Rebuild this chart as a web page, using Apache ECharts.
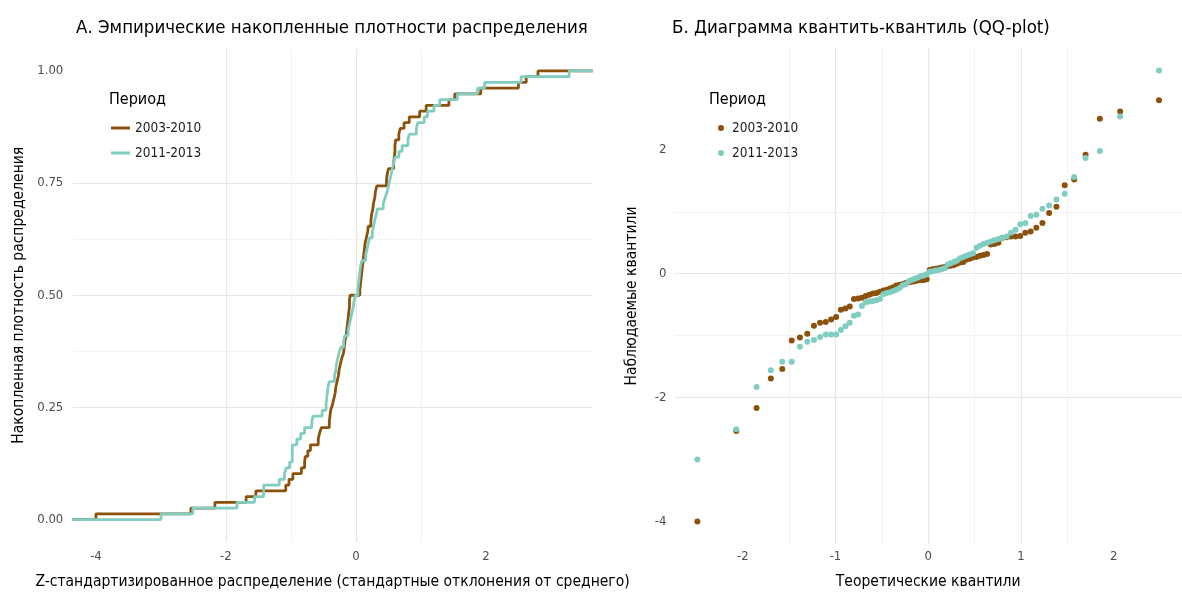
<!DOCTYPE html>
<html><head><meta charset="utf-8">
<script src="https://cdn.jsdelivr.net/npm/echarts@6/dist/echarts.min.js"></script>
<style>html,body{margin:0;padding:0;background:#fff}#c{width:1182px;height:595px}</style>
</head><body><div id="c"></div>
<script>
// ---- data ----
const periods = ['2003-2010', '2011-2013'];
// theoretical normal quantiles (n = 78)
const theoreticalQ = [-2.489,-2.070,-1.851,-1.697,-1.574,-1.472,-1.383,-1.304,-1.232,-1.166,-1.105,-1.047,-0.993,-0.942,-0.893,-0.846,-0.801,-0.757,-0.715,-0.674,-0.635,-0.596,-0.558,-0.521,-0.484,-0.448,-0.413,-0.378,-0.344,-0.310,-0.277,-0.244,-0.210,-0.178,-0.145,-0.113,-0.080,-0.048,-0.016,
  0.016,0.048,0.080,0.113,0.145,0.178,0.210,0.244,0.277,0.310,0.344,0.378,0.413,0.448,0.484,0.521,0.558,0.596,0.635,0.674,0.715,0.757,0.801,0.846,0.893,0.942,0.993,1.047,1.105,1.166,1.232,1.304,1.383,1.472,1.574,1.697,1.851,2.070,2.489];
// observed (sorted) z-values per period
const obs2003 = [-4.00,-2.54,-2.17,-1.69,-1.54,-1.08,-1.03,-0.97,-0.84,-0.79,-0.78,-0.74,-0.70,-0.58,-0.56,-0.53,-0.41,-0.40,-0.39,-0.36,-0.34,-0.32,-0.31,-0.29,-0.27,-0.26,-0.24,-0.22,-0.19,-0.18,-0.17,-0.15,-0.14,-0.13,-0.12,-0.11,-0.10,-0.10,-0.09,
  0.06,0.07,0.08,0.09,0.10,0.11,0.12,0.13,0.14,0.16,0.18,0.19,0.23,0.24,0.26,0.27,0.29,0.30,0.32,0.47,0.48,0.50,0.58,0.59,0.60,0.60,0.61,0.66,0.68,0.74,0.82,0.98,1.08,1.43,1.52,1.92,2.50,2.62,2.80];
const obs2011 = [-3.00,-2.51,-1.83,-1.56,-1.42,-1.42,-1.18,-1.10,-1.07,-1.02,-0.98,-0.98,-0.98,-0.91,-0.85,-0.79,-0.68,-0.66,-0.52,-0.46,-0.45,-0.44,-0.43,-0.41,-0.33,-0.31,-0.30,-0.28,-0.26,-0.23,-0.19,-0.17,-0.12,-0.10,-0.08,-0.06,-0.04,-0.03,-0.01,
  0.03,0.04,0.05,0.06,0.07,0.09,0.15,0.17,0.19,0.21,0.25,0.27,0.29,0.31,0.33,0.42,0.45,0.48,0.50,0.52,0.54,0.56,0.58,0.60,0.66,0.71,0.80,0.82,0.93,0.95,1.05,1.10,1.20,1.29,1.56,1.87,1.98,2.54,3.28];

// tick values (major = labelled, minor = grid only)
const ecdfXTicks = [-4, -2, 0, 2];
const ecdfXMinor = [-3, -1, 1, 3];
const ecdfYTicks = [0, 0.25, 0.5, 0.75, 1];
const ecdfYMinor = [0.125, 0.375, 0.625, 0.875];
const qqXTicks = [-2, -1, 0, 1, 2];
const qqXMinor = [-2.5, -1.5, -0.5, 0.5, 1.5, 2.5];
const qqYTicks = [-4, -2, 0, 2];
const qqYMinor = [-3, -1, 1, 3];

// ---- styling ----
const COLORS = ['#8c510a', '#80cdc1'];
const FONT = '"DejaVu Sans Condensed", "DejaVu Sans", sans-serif';
const ECDF_X = [-4.364, 3.644], ECDF_Y = [-0.05, 1.05];
const QQ_X = [-2.737, 2.737], QQ_Y = [-4.364, 3.644];

function ecdfSteps(vals, lo, hi) {
  const s = vals.slice().sort((a, b) => a - b), n = s.length;
  const out = [[lo, 0]];
  s.forEach((v, i) => out.push([v, (i + 1) / n]));
  out.push([hi, 1]);
  return out;
}
function qqPoints(vals) { return vals.map((v, i) => [theoreticalQ[i], v]); }

const majorLine = { show: true, showMinLine: false, showMaxLine: false, lineStyle: { color: '#e6e6e6', width: 1.2 } };
const minorLine = { show: true, showMinLine: false, showMaxLine: false, lineStyle: { color: '#f2f2f2', width: 0.9 } };
const tickLabelBase = { color: '#4d4d4d', fontSize: 13, fontFamily: FONT };

function valAxis(grid, range, ticks, labelOpts, opts) {
  return Object.assign({
    type: 'value', gridIndex: grid, min: range[0], max: range[1],
    axisLine: { show: false }, axisTick: { show: false, customValues: ticks }, splitLine: majorLine,
    axisLabel: Object.assign({}, tickLabelBase, { customValues: ticks }, labelOpts)
  }, opts || {});
}
function minorAxis(grid, range, ticks, pos) {
  return { type: 'value', gridIndex: grid, min: range[0], max: range[1], position: pos,
    axisLine: { show: false }, axisTick: { show: false, customValues: ticks }, axisLabel: { show: false, customValues: ticks },
    splitLine: minorLine, z: 0 };
}
const nameStyle = { color: '#000', fontSize: 15.5, fontFamily: FONT };
const titleStyle = { fontSize: 18.5, fontWeight: 'normal', color: '#000', fontFamily: FONT };

const option = {
  backgroundColor: '#fff',
  animation: false,
  title: [
    { text: 'А. Эмпирические накопленные плотности распределения', left: 71, top: 14, textStyle: titleStyle },
    { text: 'Б. Диаграмма квантить-квантиль (QQ-plot)', left: 667, top: 14, textStyle: titleStyle },
    { text: 'Период', left: 104, top: 87, textStyle: { fontSize: 16, fontWeight: 'normal', color: '#000', fontFamily: FONT } },
    { text: 'Период', left: 704, top: 87, textStyle: { fontSize: 16, fontWeight: 'normal', color: '#000', fontFamily: FONT } }
  ],
  grid: [
    { left: 72.3, top: 48.5, width: 520.5, height: 494 },
    { left: 674.4, top: 48, width: 517.3, height: 496.5 }
  ],
  xAxis: [
    valAxis(0, ECDF_X, ecdfXTicks, { margin: 8 }, { position: 'bottom', name: 'Z-стандартизированное распределение (стандартные отклонения от среднего)', nameLocation: 'middle', nameGap: 32, nameTextStyle: nameStyle }),
    minorAxis(0, ECDF_X, ecdfXMinor, 'bottom'),
    valAxis(1, QQ_X, qqXTicks, { margin: 6 }, { position: 'bottom', name: 'Теоретические квантили', nameLocation: 'middle', nameGap: 30, nameTextStyle: nameStyle }),
    minorAxis(1, QQ_X, qqXMinor, 'bottom')
  ],
  yAxis: [
    valAxis(0, ECDF_Y, ecdfYTicks, { margin: 9, formatter: v => Number(v).toFixed(2) }, { position: 'left', name: 'Накопленная плотность распределения', nameLocation: 'middle', nameGap: 45, nameTextStyle: nameStyle }),
    minorAxis(0, ECDF_Y, ecdfYMinor, 'left'),
    valAxis(1, QQ_Y, qqYTicks, { margin: 8 }, { position: 'left', name: 'Наблюдаемые квантили', nameLocation: 'middle', nameGap: 34, nameTextStyle: nameStyle }),
    minorAxis(1, QQ_Y, qqYMinor, 'left')
  ],
  legend: [
    { orient: 'vertical', left: 106, top: 114, icon: 'rect', itemWidth: 19, itemHeight: 3, itemGap: 7,
      data: periods, selectedMode: false, textStyle: { fontSize: 13.5, color: '#222', fontFamily: FONT, lineHeight: 18 } },
    { orient: 'vertical', left: 713, top: 114, icon: 'circle', itemWidth: 6, itemHeight: 6, itemGap: 7,
      data: periods, selectedMode: false, textStyle: { fontSize: 13.5, color: '#222', fontFamily: FONT, lineHeight: 18, padding: [0, 0, 0, 3] } }
  ],
  series: [
    { name: periods[0], type: 'line', step: 'end', xAxisIndex: 0, yAxisIndex: 0, showSymbol: false, symbol: 'none',
      data: ecdfSteps(obs2003, ECDF_X[0], ECDF_X[1]), lineStyle: { color: COLORS[0], width: 2.8 }, itemStyle: { color: COLORS[0] }, z: 3 },
    { name: periods[1], type: 'line', step: 'end', xAxisIndex: 0, yAxisIndex: 0, showSymbol: false, symbol: 'none',
      data: ecdfSteps(obs2011, ECDF_X[0], ECDF_X[1]), lineStyle: { color: COLORS[1], width: 2.8 }, itemStyle: { color: COLORS[1] }, z: 4 },
    { name: periods[0], type: 'scatter', xAxisIndex: 2, yAxisIndex: 2, symbolSize: 6,
      data: qqPoints(obs2003), itemStyle: { color: COLORS[0], opacity: 1 }, z: 3 },
    { name: periods[1], type: 'scatter', xAxisIndex: 2, yAxisIndex: 2, symbolSize: 6,
      data: qqPoints(obs2011), itemStyle: { color: COLORS[1], opacity: 1 }, z: 4 }
  ]
};
const chart = echarts.init(document.getElementById('c'), null, { renderer: 'canvas' });
chart.setOption(option);
</script></body></html>
